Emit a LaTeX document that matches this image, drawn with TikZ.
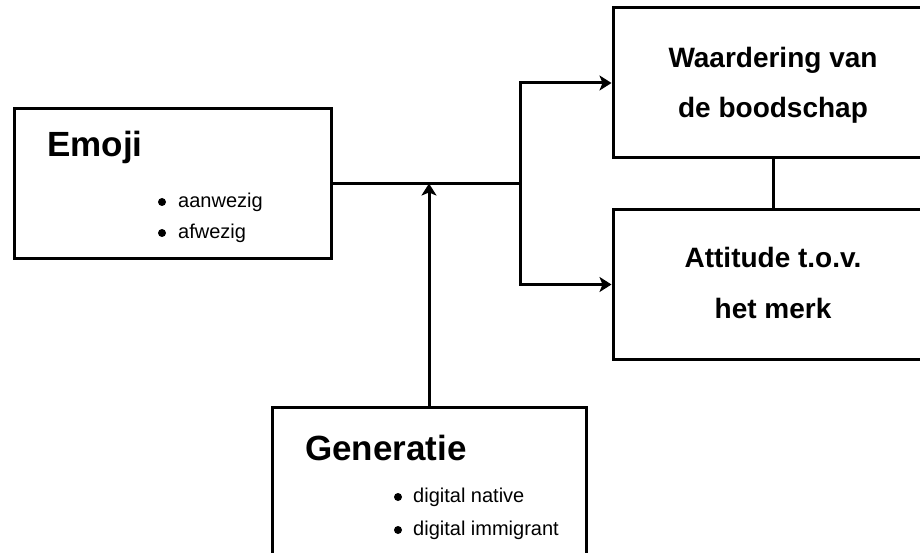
\documentclass[tikz,border=0pt]{standalone}
\usepackage{fontspec}
\setmainfont{Liberation Sans}
\usetikzlibrary{arrows.meta}
\begin{document}
\begin{tikzpicture}[x=1pt,y=-1pt,
  box/.style={draw, line width=3pt, rectangle, inner sep=0pt},
  conn/.style={line width=3pt},
  arr/.style={conn, -{Stealth[length=12pt,width=15pt,inset=3pt]}},
  bigtitle/.style={font=\fontsize{35}{42}\selectfont\bfseries, anchor=base west, inner sep=0pt},
  midtitle/.style={font=\fontsize{28}{34}\selectfont\bfseries, anchor=base, inner sep=0pt},
  item/.style={font=\fontsize{20}{24}\selectfont, anchor=base west, inner sep=0pt},
  dot/.style={fill=black}
]
\clip (0,0) rectangle (920,553);
\fill[white] (0,0) rectangle (920,553);

% boxes
\node[box, minimum width=317pt, minimum height=149pt] (emoji) at (172.5,183.5) {};
\node[box, minimum width=320pt, minimum height=150pt] (waar) at (773,83) {};
\node[box, minimum width=320pt, minimum height=149pt] (att) at (773,284.5) {};
\node[box, minimum width=314pt, minimum height=149pt] (gen) at (429,481.5) {};

% texts
\node[bigtitle] (emojiT) at (47,157) {Emoji};
\node[item] (aan) at (178,208) {aanwezig};
\node[item] (af) at (178,239) {afwezig};
\fill[dot] (162,202) circle (4);
\fill[dot] (162,233) circle (4);

\node[midtitle] (waar1) at (773,68) {Waardering van};
\node[midtitle] (waar2) at (773,118) {de boodschap};
\node[midtitle] (att1) at (773,267) {Attitude t.o.v.};
\node[midtitle] (att2) at (773,318) {het merk};

\node[bigtitle] (genT) at (305,460) {Generatie};
\node[item] (dn) at (413,502) {digital native};
\node[item] (di) at (413,535) {digital immigrant};
\fill[dot] (398,497) circle (4);
\fill[dot] (398,530) circle (4);

% connectors
\coordinate (j) at (520,183.5);
\draw[conn] (emoji.east) -- (j);
\draw[arr] (j) |- (waar.west);
\draw[arr] (j) |- (att.west);
\draw[arr] (gen.north) -- (gen.north |- emoji.east);
\draw[conn] (waar.south) -- (att.north);
\end{tikzpicture}
\end{document}
